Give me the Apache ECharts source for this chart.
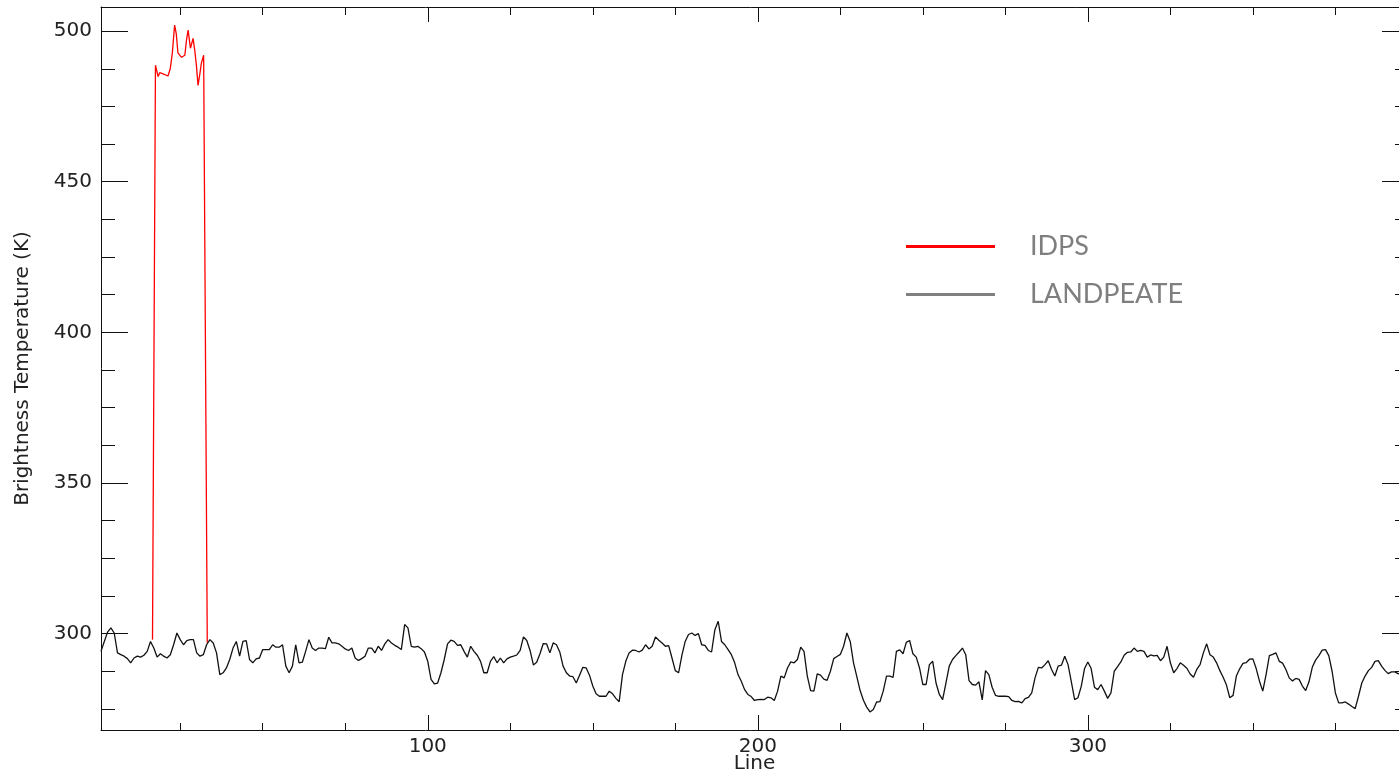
<!DOCTYPE html>
<html>
<head>
    <meta charset="utf-8">
    <title>Brightness Temperature</title>
    <script src="https://cdn.jsdelivr.net/npm/echarts@6/dist/echarts.min.js"></script>
    <style>
        body { margin: 0; background: #fff; }
        #main { width: 1399px; height: 773px; }
    </style>
</head>
<body>
    <div id="main"></div>
    <script type="text/javascript">

    // LANDPEATE brightness temperature, one value per line (line 1 .. 397)
    var landpeate = [
        294.1, 297.4, 300.5, 301.9, 300.2, 293.6, 293.0, 292.5, 291.7, 290.3,
        291.9, 292.5, 292.2, 292.8, 294.1, 297.4, 295.2, 292.2, 293.3, 292.5,
        291.9, 293.0, 296.3, 300.2, 298.0, 296.3, 297.7, 298.0, 298.0, 293.6,
        292.5, 293.0, 296.3, 298.0, 296.9, 293.6, 286.4, 287.0, 288.6, 291.4,
        295.2, 297.4, 292.5, 297.4, 297.7, 291.4, 290.3, 291.6, 291.9, 294.7,
        294.7, 294.7, 296.3, 295.5, 295.5, 296.3, 289.2, 287.0, 289.2, 296.3,
        290.3, 290.5, 294.1, 298.0, 295.2, 294.4, 295.2, 295.2, 295.0, 298.8,
        296.9, 296.9, 296.6, 295.8, 294.9, 294.4, 295.2, 291.9, 291.1,
        291.7, 292.5, 295.2, 295.2, 293.6, 295.8, 294.4, 296.6, 298.0, 296.9,
        296.1, 295.5, 294.7, 303.0, 301.9, 295.8, 295.5, 295.8, 295.0, 293.9,
        290.8, 284.8, 283.3, 283.6, 287.0, 291.4, 296.6, 297.8, 297.4, 296.1,
        296.3, 294.1, 292.2, 295.8, 294.1, 292.8, 290.8, 287.0, 287.0, 290.8,
        292.4, 290.3, 291.9, 290.3, 291.6, 292.2, 292.5, 292.9, 294.4, 298.9,
        297.7, 294.4, 289.6, 290.5, 293.3, 296.7, 296.6, 293.6, 296.9, 296.3,
        293.9, 289.2, 287.0, 285.9, 285.7, 283.6, 286.2, 288.8, 288.6, 286.2,
        282.6, 280.0, 279.2, 279.2, 279.2, 280.9, 280.0, 278.5, 277.4,
        286.4, 290.8, 293.6, 294.5, 294.4, 293.9, 294.5, 296.3, 294.9, 295.8,
        298.9, 297.8, 296.9, 295.8, 296.0, 291.9, 287.7, 287.0, 292.8, 297.4,
        299.7, 300.2, 299.4, 300.0, 296.3, 296.1, 294.4, 293.9, 301.3, 304.1,
        297.4, 296.3, 294.7, 293.0, 290.3, 286.4, 284.2, 281.4, 279.8, 279.1,
        277.8, 278.1, 278.2, 278.1, 278.9, 278.7, 277.8, 280.9, 285.9, 285.3,
        288.6, 290.6, 290.3, 291.4, 295.5, 294.1, 285.9, 281.1, 280.9, 286.6,
        286.2, 284.9, 284.5, 287.5, 291.7, 292.4, 293.1, 295.8, 300.2, 297.4,
        290.3, 285.7, 281.1, 277.9, 275.6, 274.0, 274.8, 277.3, 277.4,
        280.9, 285.9, 285.9, 285.5, 294.1, 294.6, 293.3, 297.1, 297.7, 293.3,
        292.2, 288.6, 283.1, 283.1, 289.7, 290.8, 283.6, 279.8, 278.1, 283.6,
        289.2, 291.4, 292.7, 293.9, 295.2, 293.0, 284.4, 283.1, 282.9, 284.0,
        278.0, 287.7, 286.4, 282.2, 279.5, 279.2, 279.2, 279.2, 279.1, 277.8,
        277.4, 277.5, 277.0, 278.4, 278.8, 280.3, 285.3, 288.8, 288.6, 289.7,
        291.0, 288.1, 285.9, 289.2, 289.5, 292.5, 289.7, 284.0, 278.1, 278.7,
        282.5, 288.4, 290.6, 288.4, 282.2, 281.4, 283.1, 280.9, 278.5, 280.3,
        287.5, 289.0, 290.6, 292.8, 293.8, 293.9, 295.2, 294.1,
        294.4, 294.1, 292.2, 292.9, 292.6, 292.8, 291.0, 292.2, 295.8, 290.3,
        287.0, 288.4, 290.3, 289.5, 288.5, 286.6, 285.5, 288.1, 289.7, 293.6,
        296.6, 293.0, 292.2, 290.3, 287.7, 285.5, 282.9, 278.7, 279.5, 285.9,
        288.3, 290.1, 290.4, 291.5, 291.6, 288.4, 284.2, 280.9, 286.4, 292.7,
        293.1, 293.6, 290.8, 290.2, 288.1, 285.3, 284.3, 285.1, 284.8, 282.6,
        281.1, 284.0, 288.8, 291.2, 292.7, 294.5, 294.7, 292.7, 287.5, 280.3,
        277.0, 277.0, 277.3, 276.6, 275.8, 275.1, 279.2, 283.6, 285.9, 287.7,
        288.8, 290.8, 291.0, 289.2, 287.8, 286.7, 287.3, 287.3, 286.7, 286.6,
        287.0, 286.5
    ];

    // IDPS: differs from LANDPEATE only over the hot lines
    var idpsLines = [16.6, 17.5, 17.8, 18.3, 18.8, 19.8, 21.3, 22.0, 22.6, 23.3, 23.8, 24.3, 25.4,
        26.4, 26.9, 27.4, 28.1, 28.9, 29.4, 29.9, 30.4, 30.9, 31.4, 32.1, 33.2];
    var idpsValues = [298.0, 488.7, 488.2, 484.9, 486.2, 485.8, 485.1, 487.6, 492.6, 502.0, 499.2, 492.8, 491.3,
        492.0, 497.0, 500.3, 494.3, 497.6, 493.7, 488.7, 482.0, 485.4, 489.3, 492.0, 297.0];

    // ticks
    var xMajor = [100, 200, 300];
    var xMinor = [25, 50, 75, 125, 150, 175, 225, 250, 275, 325, 350, 375];
    var yMajor = [300, 350, 400, 450, 500];
    var yMinor = [275, 287.5, 312.5, 325, 337.5, 362.5, 375, 387.5, 412.5, 425, 437.5, 462.5, 475, 487.5];

    var xMin = 1, xMax = 397, yMin = 268, yMax = 508;

    var font = 'DejaVu Sans';
    var axisColor = '#111';

    var landData = landpeate.map(function (v, i) { return [i + 1, v]; });
    var idpsData = idpsLines.map(function (x, i) { return [x, idpsValues[i]]; });

    function xAx(grid, pos, ticks, len, labels, extra) {
        var a = {
            type: 'value', gridIndex: grid, position: pos, min: xMin, max: xMax,
            splitLine: { show: false },
            axisLine: { show: grid === 0, onZero: false, lineStyle: { color: axisColor, width: 1 } },
            axisTick: { show: true, inside: true, length: len, customValues: ticks,
                lineStyle: { color: axisColor, width: 1 } },
            axisLabel: labels ? { customValues: ticks, color: '#222', fontFamily: font, fontSize: 20, margin: 7 }
                              : { show: false }
        };
        for (var k in extra) a[k] = extra[k];
        return a;
    }
    function yAx(grid, pos, ticks, len, labels, extra) {
        var a = {
            type: 'value', gridIndex: grid, position: pos, min: yMin, max: yMax,
            splitLine: { show: false },
            axisLine: { show: grid === 0, onZero: false, lineStyle: { color: axisColor, width: 1 } },
            axisTick: { show: true, inside: true, length: len, customValues: ticks,
                lineStyle: { color: axisColor, width: 1 } },
            axisLabel: labels ? { customValues: ticks, color: '#222', fontFamily: font, fontSize: 20, margin: 9 }
                              : { show: false }
        };
        for (var k in extra) a[k] = extra[k];
        return a;
    }

    var gridBox = { left: 101, top: 7, width: 1307, height: 723 };

    var myChart = echarts.init(document.getElementById('main'));

    var option = {
        animation: false,
        backgroundColor: '#fff',
        grid: [
            { left: gridBox.left, top: gridBox.top, width: gridBox.width, height: gridBox.height,
              containLabel: false, outerBoundsMode: 'none' },
            { left: gridBox.left, top: gridBox.top, width: gridBox.width, height: gridBox.height,
              containLabel: false, outerBoundsMode: 'none' }
        ],
        legend: {
            orient: 'vertical', left: 901, top: 226,
            icon: 'rect', itemWidth: 89, itemHeight: 3, itemGap: 17,
            selectedMode: false,
            textStyle: { color: '#7f7f7f', fontFamily: 'Lato', fontSize: 27, lineHeight: 31, padding: [0, 0, 0, 30] },
            data: [
                { name: 'IDPS', itemStyle: { color: '#ff0000' } },
                { name: 'LANDPEATE', itemStyle: { color: '#808080' } }
            ]
        },
        xAxis: [
            xAx(0, 'bottom', xMajor, 15, true, {
                name: 'Line', nameLocation: 'middle', nameGap: 24, nameMoveOverlap: false,
                nameTextStyle: { color: '#222', fontFamily: font, fontSize: 20 }
            }),
            xAx(0, 'top', xMajor, 15, false, {}),
            xAx(1, 'bottom', xMinor, 7, false, {}),
            xAx(1, 'top', xMinor, 8, false, {})
        ],
        yAxis: [
            yAx(0, 'left', yMajor, 27, true, {
                name: 'Brightness Temperature (K)', nameLocation: 'middle', nameGap: 68, nameRotate: 90,
                nameMoveOverlap: false,
                nameTextStyle: { color: '#222', fontFamily: font, fontSize: 20 }
            }),
            yAx(0, 'right', yMajor, 26, false, {}),
            yAx(1, 'left', yMinor, 14, false, {}),
            yAx(1, 'right', yMinor, 13, false, {})
        ],
        series: [
            {
                name: 'IDPS', type: 'line', xAxisIndex: 0, yAxisIndex: 0,
                data: idpsData, showSymbol: false, symbol: 'none', z: 2,
                lineStyle: { color: '#ff0000', width: 1.3 }
            },
            {
                name: 'LANDPEATE', type: 'line', xAxisIndex: 0, yAxisIndex: 0,
                data: landData, showSymbol: false, symbol: 'none', z: 3,
                lineStyle: { color: '#111', width: 1.3 }
            }
        ]
    };

    myChart.setOption(option);
    </script>
</body>
</html>
